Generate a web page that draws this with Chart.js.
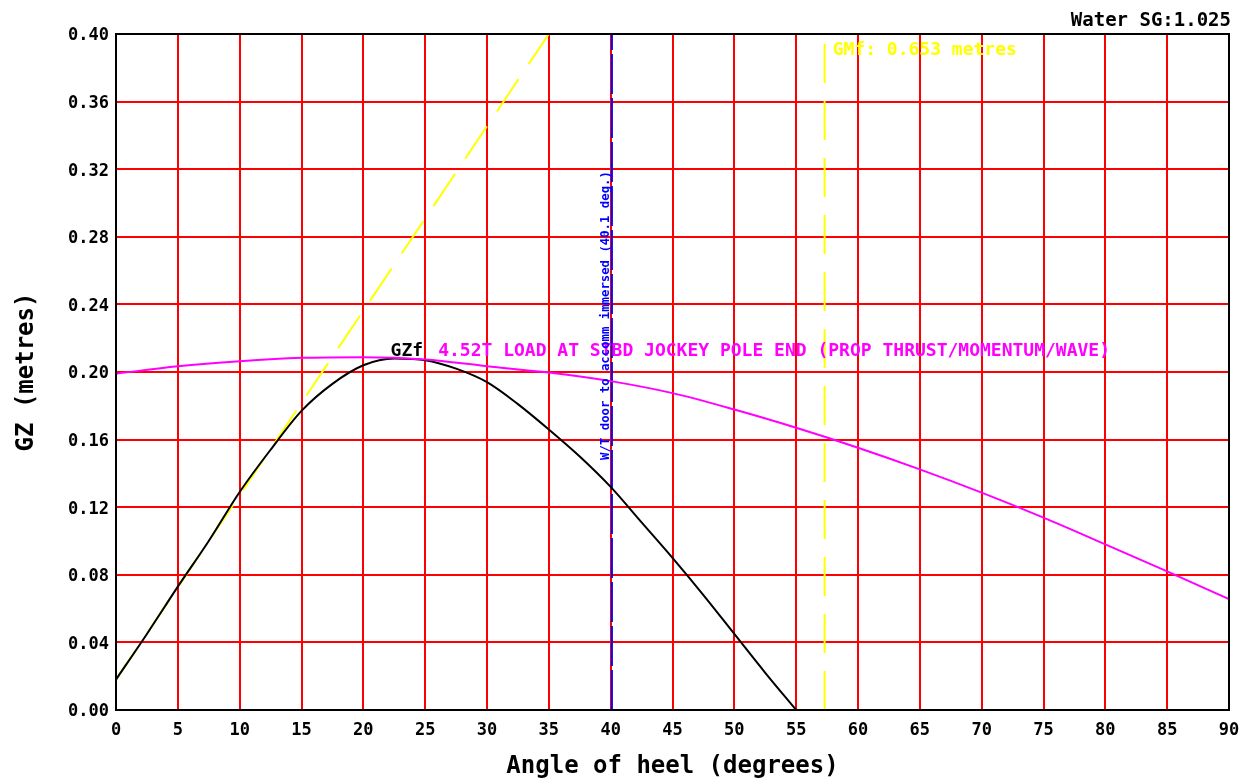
<!DOCTYPE html>
<html>
<head>
<meta charset="utf-8">
<title>GZ curve</title>
<script src="https://cdn.jsdelivr.net/npm/chart.js@4.4.1/dist/chart.umd.min.js"></script>
<style>
    html, body { margin: 0; padding: 0; background: #ffffff; }
    #gzChart { display: block; }
</style>
</head>
<body>
<canvas id="gzChart" width="1252" height="783"></canvas>
<script>
// 数据 - 从图上读取
const gzAngles = [0, 2.5, 5, 7.5, 10, 12.5, 15, 17.5, 20, 22.5, 25, 27.5, 30, 32.5, 35, 37.5, 40, 42.5, 45, 47.5, 50, 52.5, 55];
const gzValues = [0.018, 0.045, 0.073, 0.100, 0.129, 0.154, 0.177, 0.193, 0.204, 0.208, 0.207, 0.202, 0.194, 0.181, 0.166, 0.150, 0.132, 0.111, 0.090, 0.068, 0.045, 0.022, 0.000];

const armAngles = [0, 5, 10, 15, 20, 25, 30, 35, 40, 45, 50, 55, 60, 65, 70, 75, 80, 85, 90];
const armValues = [0.199, 0.2034, 0.2064, 0.2084, 0.2088, 0.2074, 0.2034, 0.1997, 0.1946, 0.1875, 0.1778, 0.167, 0.1552, 0.1424, 0.1286, 0.1138, 0.098, 0.082, 0.0656];

// GM 切线
const gmAngles = [0, 35.0];
const gmValues = [0.018, 0.400];

// 竖线
const wtDoorAngle = 40.1;
const wtDoorRange = [0, 0.40];
const gmfAngle = 57.3;
const gmfRange = [0, 0.3947];

// 刻度
const xTickStep = 5;
const yTickStep = 0.04;

const MONO = '"DejaVu Sans Mono", "Liberation Mono", monospace';

function toPoints(xs, ys) {
    return xs.map((x, i) => ({ x: x, y: ys[i] }));
}

// 文字和外框
const overlayPlugin = {
    id: 'stabilityOverlay',
    afterDatasetsDraw(chart) {
        const { ctx, chartArea, scales } = chart;
        const xs = scales.x;
        const ys = scales.y;
        ctx.save();

        ctx.strokeStyle = '#000000';
        ctx.lineWidth = 2;
        ctx.strokeRect(chartArea.left, chartArea.top,
            chartArea.right - chartArea.left, chartArea.bottom - chartArea.top);

        ctx.textAlign = 'left';
        ctx.textBaseline = 'alphabetic';

        ctx.font = 'bold 18px ' + MONO;
        ctx.fillStyle = '#000000';
        ctx.fillText('GZf', xs.getPixelForValue(22.2), ys.getPixelForValue(0.2092));

        ctx.fillStyle = '#ff00ff';
        ctx.fillText('4.52T LOAD AT STBD JOCKEY POLE END (PROP THRUST/MOMENTUM/WAVE)',
            xs.getPixelForValue(26.05), ys.getPixelForValue(0.2092));

        ctx.fillStyle = '#ffff00';
        ctx.fillText('GMf: 0.653 metres', xs.getPixelForValue(57.95), ys.getPixelForValue(0.3873));

        // 竖排蓝字
        ctx.save();
        ctx.translate(xs.getPixelForValue(39.85), ys.getPixelForValue(0.148));
        ctx.rotate(-Math.PI / 2);
        ctx.font = 'bold 12.3px ' + MONO;
        ctx.fillStyle = '#0000ff';
        ctx.fillText('W/T door to accomm immersed (40.1 deg.)', 0, 0);
        ctx.restore();

        ctx.font = 'bold 19px ' + MONO;
        ctx.fillStyle = '#000000';
        ctx.textAlign = 'right';
        ctx.fillText('Water SG:1.025', 1231, 26);

        ctx.restore();
    }
};

const ctx = document.getElementById('gzChart').getContext('2d');

const chart = new Chart(ctx, {
    type: 'scatter',
    data: {
        datasets: [
            {
                label: 'Heeling arm',
                data: toPoints(armAngles, armValues),
                showLine: true,
                borderColor: '#ff00ff',
                borderWidth: 2,
                pointRadius: 0,
                cubicInterpolationMode: 'monotone'
            },
            {
                label: 'GZf',
                data: toPoints(gzAngles, gzValues),
                showLine: true,
                borderColor: '#000000',
                borderWidth: 2,
                pointRadius: 0,
                cubicInterpolationMode: 'monotone'
            },
            {
                label: 'W/T door',
                data: toPoints([wtDoorAngle, wtDoorAngle], wtDoorRange),
                showLine: true,
                borderColor: '#0000ff',
                borderWidth: 2,
                borderDash: [40, 4],
                pointRadius: 0
            },
            {
                label: 'GMf',
                data: toPoints([gmfAngle, gmfAngle], gmfRange),
                showLine: true,
                borderColor: '#ffff00',
                borderWidth: 2,
                borderDash: [39, 18],
                pointRadius: 0
            },
            {
                label: 'GM tangent',
                data: toPoints(gmAngles, gmValues),
                showLine: true,
                borderColor: '#ffff00',
                borderWidth: 2,
                borderDash: [39, 18],
                pointRadius: 0
            }
        ]
    },
    options: {
        responsive: false,
        animation: false,
        devicePixelRatio: 1,
        layout: {
            padding: { top: 34, right: 23, left: 0, bottom: 0 }
        },
        plugins: {
            legend: { display: false },
            tooltip: { enabled: false }
        },
        scales: {
            x: {
                type: 'linear',
                min: 0,
                max: 90,
                afterFit: function(scale) { scale.height = 73; },
                grid: {
                    color: '#ff0000',
                    lineWidth: 2,
                    drawTicks: false
                },
                border: { color: '#000000', width: 2 },
                ticks: {
                    stepSize: xTickStep,
                    autoSkip: false,
                    maxRotation: 0,
                    padding: 10,
                    color: '#000000',
                    font: { family: MONO, size: 17, weight: 'bold' }
                },
                title: {
                    display: true,
                    text: 'Angle of heel (degrees)',
                    color: '#000000',
                    padding: { top: 0, bottom: 2 },
                    font: { family: MONO, size: 24, weight: 'bold' }
                }
            },
            y: {
                type: 'linear',
                min: 0,
                max: 0.40,
                afterFit: function(scale) { scale.width = 116; },
                grid: {
                    color: '#ff0000',
                    lineWidth: 2,
                    drawTicks: false
                },
                border: { color: '#000000', width: 2 },
                ticks: {
                    stepSize: yTickStep,
                    padding: 7,
                    labelOffset: 2,
                    color: '#000000',
                    font: { family: MONO, size: 17, weight: 'bold' },
                    callback: function(value) {
                        return value.toFixed(2);
                    }
                },
                title: {
                    display: true,
                    text: 'GZ (metres)',
                    color: '#000000',
                    padding: { top: 12, bottom: 0 },
                    font: { family: MONO, size: 24, weight: 'bold' }
                }
            }
        }
    },
    plugins: [overlayPlugin]
});
</script>
</body>
</html>
